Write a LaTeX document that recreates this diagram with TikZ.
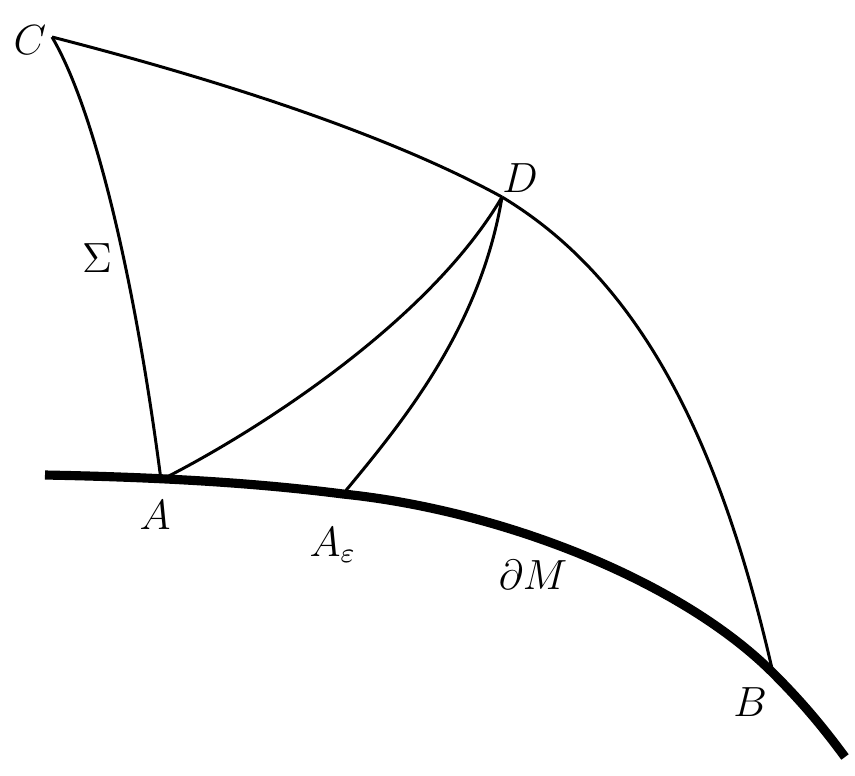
\documentclass[tikz,border=0pt]{standalone}
\usepackage{amsmath}
\usepackage{amssymb}
\usepackage{tikz}
\usetikzlibrary{calc}
\usetikzlibrary{positioning}

\begin{document}
\begin{tikzpicture}[x=0.01cm,y=-0.01cm,
  every node/.style={inner sep=0pt, font=\large},
  geod/.style={line width=0.85pt},
  bdry/.style={line width=2.6pt}]
\useasboundingbox (0,0) rectangle (855,775);
% points
\coordinate (C) at (52,37);
\coordinate (D) at (502,197);
\coordinate (A) at (161,480);
\coordinate (Ae) at (343,494);
\coordinate (B) at (773,673);
\coordinate (M0) at (45,475);
\coordinate (M2) at (845,757);
% boundary
\draw[bdry] (M0) .. controls (150,477) and (250,482) .. (Ae)
  .. controls (500,510) and (680,580) .. (B)
  .. controls (805,705) and (825,730) .. (M2);
% curves
\draw[geod] (C) .. controls (200,75) and (380,130) .. (D);
\draw[geod] (D) .. controls (640,280) and (720,440) .. (B);
\draw[geod] (C) .. controls (95,110) and (135,280) .. (A);
\draw[geod] (A) .. controls (260,430) and (430,320) .. (D);
\draw[geod] (Ae) .. controls (400,425) and (480,330) .. (D);
% labels
\node (lC) at (30,40) {$C$};
\node (lD) at (520,178) {$D$};
\node (lS) at (97,258) {$\Sigma$};
\node (lA) at (155,515) {$A$};
\node (lAe) at (333,545) {$A_\varepsilon$};
\node (lM) at (533,575) {$\partial M$};
\node (lB) at (750,702) {$B$};
\end{tikzpicture}
\end{document}
